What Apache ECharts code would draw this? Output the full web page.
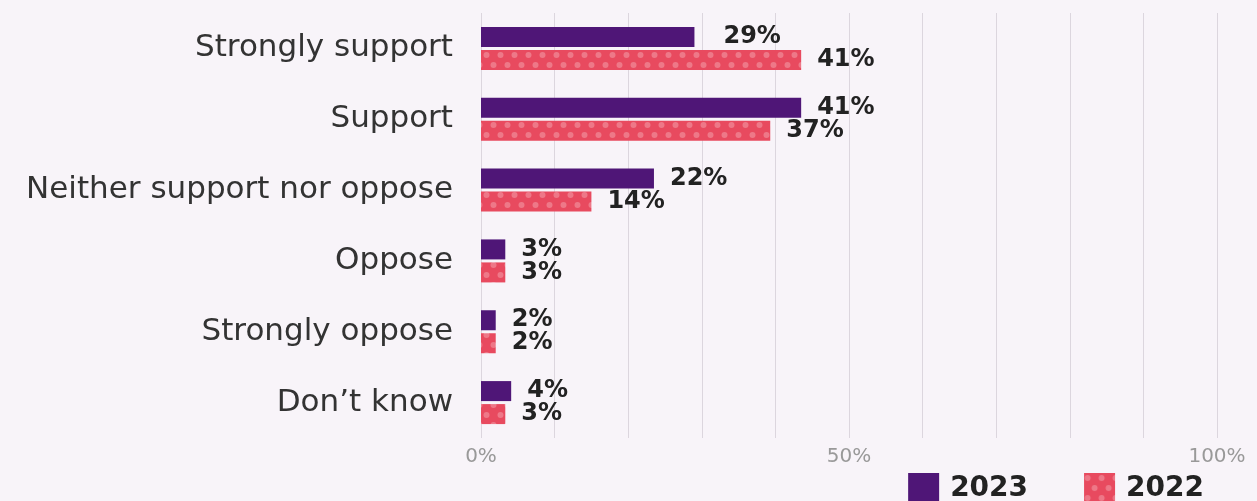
<!DOCTYPE html>
<html>
<head>
<meta charset="utf-8">
<script src="https://cdn.jsdelivr.net/npm/echarts@6/dist/echarts.min.js"></script>
<style>
  html, body { margin: 0; padding: 0; background: #f8f4f9; }
  #main { width: 1257px; height: 501px; }
</style>
</head>
<body>
<div id="main"></div>
<script>
  // data (bar lengths as drawn, labels as printed)
  var categories = ['Strongly support', 'Support', 'Neither support nor oppose', 'Oppose', 'Strongly oppose', 'Don\u2019t know'];
  var values2023 = [29, 43.5, 23.5, 3.3, 2, 4.1];
  var values2022 = [43.5, 39.3, 15, 3.3, 2, 3.3];
  var labels2023 = ['29%', '41%', '22%', '3%', '2%', '4%'];
  var labels2022 = ['41%', '37%', '14%', '3%', '2%', '3%'];
  var xTicks = [0, 50, 100];

  // dotted fill for 2022
  function dotPattern() {
    var c = document.createElement('canvas');
    c.width = 14; c.height = 20;
    var ctx = c.getContext('2d');
    ctx.fillStyle = '#e84a5f';
    ctx.fillRect(0, 0, 14, 20);
    ctx.fillStyle = 'rgba(255,255,255,0.26)';
    ctx.beginPath(); ctx.arc(3.5, 5, 3, 0, Math.PI * 2); ctx.fill();
    ctx.beginPath(); ctx.arc(10.5, 15, 3, 0, Math.PI * 2); ctx.fill();
    return { image: c, repeat: 'repeat' };
  }

  var font = 'DejaVu Sans';
  var chart = echarts.init(document.getElementById('main'));

  function labelStyle(texts) {
    return {
      show: true,
      position: 'right',
      distance: 16,
      fontFamily: font,
      fontWeight: 'bold',
      fontSize: 24,
      color: '#222',
      formatter: function (p) { return texts[p.dataIndex]; }
    };
  }

  var option = {
    backgroundColor: '#f8f4f9',
    animation: false,
    grid: { left: 481, right: 40, top: 13, bottom: 63, containLabel: false },
    legend: {
      right: 48,
      top: 468,
      itemWidth: 31,
      itemHeight: 31,
      itemGap: 56,
      icon: 'rect',
      textStyle: { fontFamily: font, fontWeight: 'bold', fontSize: 28, color: '#222', padding: [0, 0, 0, 6] },
      data: ['2023', '2022']
    },
    xAxis: {
      type: 'value',
      min: 0,
      max: 100,
      interval: 10,
      axisLine: { show: false },
      axisTick: { show: false },
      splitLine: { lineStyle: { color: '#dcd6de', width: 1 } },
      axisLabel: {
        fontFamily: font,
        fontSize: 20,
        color: '#999',
        margin: 9,
        formatter: function (v) { return xTicks.indexOf(v) >= 0 ? v + '%' : ''; }
      }
    },
    yAxis: {
      type: 'category',
      inverse: true,
      data: categories,
      axisLine: { show: false },
      axisTick: { show: false },
      axisLabel: { fontFamily: font, fontSize: 31, color: '#333', margin: 28 }
    },
    series: [
      {
        name: '2023',
        type: 'bar',
        barWidth: 20,
        barGap: '15%',
        itemStyle: { color: '#4f1677' },
        label: labelStyle(labels2023),
        data: values2023.map(function (v, i) {
          // the first 2023 label sits further out in the original
          return i === 0 ? { value: v, label: { distance: 29 } } : v;
        })
      },
      {
        name: '2022',
        type: 'bar',
        barWidth: 20,
        barGap: '15%',
        itemStyle: { color: dotPattern() },
        label: labelStyle(labels2022),
        data: values2022
      }
    ]
  };

  chart.setOption(option);
</script>
</body>
</html>
